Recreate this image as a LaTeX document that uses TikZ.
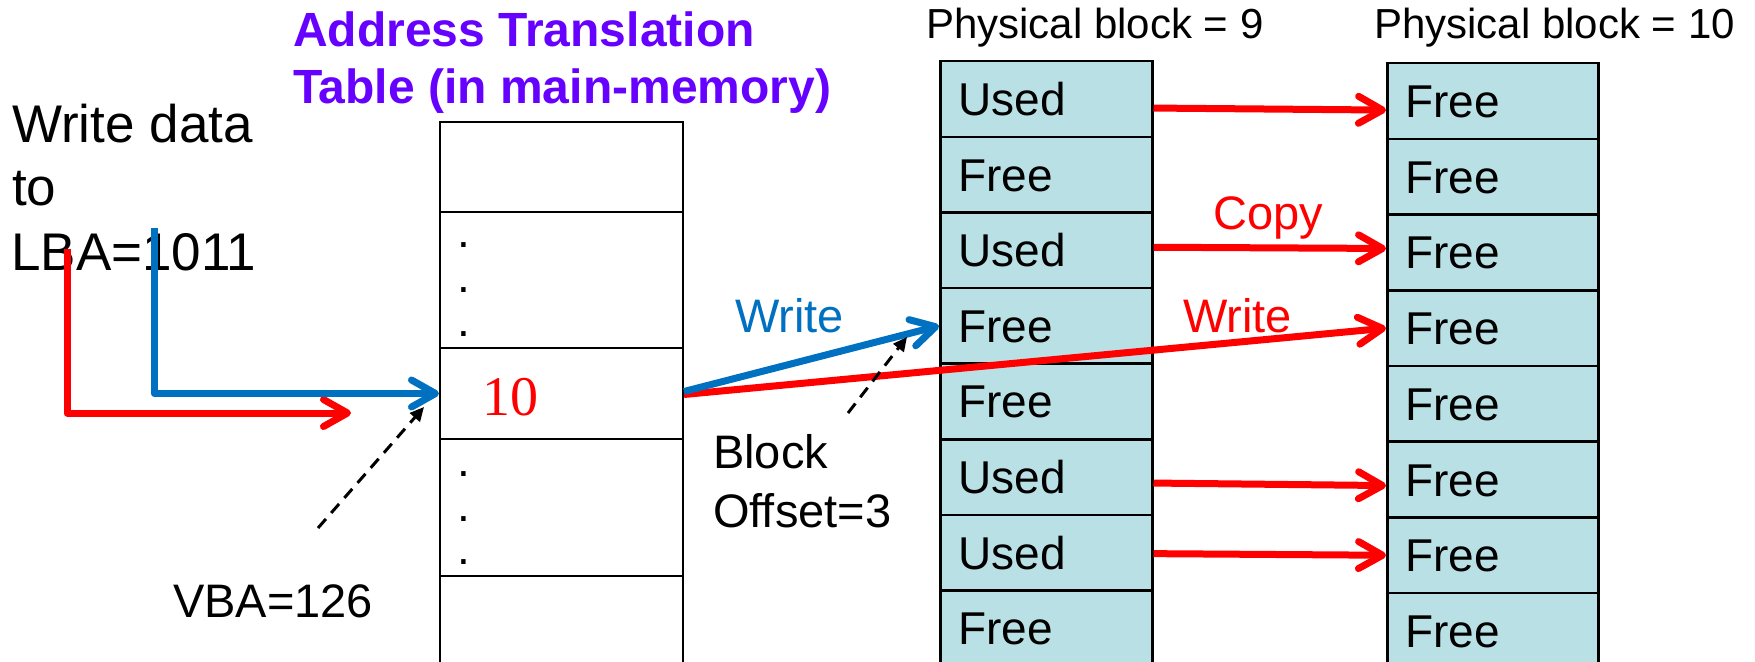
\documentclass[tikz,border=0pt]{standalone}
\usepackage{fontspec}
\setmainfont{Liberation Sans}
\newfontfamily\serifnum{Liberation Serif}
\usetikzlibrary{arrows.meta}
\definecolor{cellfill}{RGB}{185,224,228}
\definecolor{ablue}{RGB}{0,112,192}
\definecolor{ared}{RGB}{255,0,0}
\definecolor{titlepurple}{RGB}{102,0,255}
\begin{document}
\begin{tikzpicture}[x=1pt,y=-1pt,
  tcell/.style={draw, line width=2pt, minimum width=243pt, inner sep=0pt, anchor=north west},
  bcell/.style={draw, line width=2.5pt, fill=cellfill, minimum height=75.6pt,
    inner xsep=18pt, inner ysep=0pt, align=left, text height=33pt, text depth=0pt,
    anchor=north west, font=\fontsize{46}{50}\selectfont},
  lbl/.style={inner sep=0pt, anchor=base west, font=\fontsize{47}{56}\selectfont},
  ttl/.style={inner sep=0pt, anchor=base west, text=titlepurple, font=\fontsize{48}{56}\selectfont\bfseries},
  big/.style={inner sep=0pt, anchor=base west, font=\fontsize{53}{64}\selectfont},
  hdr/.style={inner sep=0pt, anchor=base west, font=\fontsize{42}{50}\selectfont},
  dotlbl/.style={inner sep=0pt, anchor=base, font=\fontsize{46}{50}\selectfont},
  fat/.style={line width=7pt, line join=round, -{Straight Barb[length=24pt,width=27pt,round]}},
  ptr/.style={line width=3pt, dash pattern=on 12pt off 8pt, -{Triangle[length=14pt,width=13pt]}}
]
\useasboundingbox (0,0) rectangle (1755,661);
\clip (0,0) rectangle (1755,661);

% title
\node[ttl] (title1) at (293,47) {Address Translation};
\node[ttl] (title2) at (293,103) {Table (in main-memory)};

% write data text
\node[big] (w1) at (12,142) {Write data};
\node[big] (w2) at (12,205) {to};
\node[big] (w3) at (11,270) {LBA=1011};

% translation table
\node[tcell, minimum height=90pt]  (t1) at (439,121) {};
\node[tcell, minimum height=136pt] (t2) at (439,211) {};
\node[tcell, minimum height=91pt]  (t3) at (439,347) {};
\node[tcell, minimum height=137pt] (t4) at (439,438) {};
\node[tcell, minimum height=140pt] (t5) at (439,575) {};
\node[dotlbl] (d1) at (464,247) {.};
\node[dotlbl] (d2) at (464,292) {.};
\node[dotlbl] (d3) at (464,336) {.};
\node[dotlbl] (d4) at (464,476) {.};
\node[dotlbl] (d5) at (464,521) {.};
\node[dotlbl] (d6) at (464,564) {.};
\node[inner sep=0pt, anchor=base, text=ared, font=\fontsize{56}{60}\serifnum] (ten) at (510,415) {10};

% physical blocks
\node[hdr] (p9) at (926,38) {Physical block = 9};
\node[hdr] (p10) at (1374,38) {Physical block = 10};
\foreach \t [count=\i] in {Used,Free,Used,Free,Free,Used,Used,Free}
  \node[bcell, minimum width=212pt, text width=176pt] (b\i) at (939,{60+(\i-1)*75.6}) {\t};
\foreach \t [count=\i] in {Free,Free,Free,Free,Free,Free,Free,Free}
  \node[bcell, minimum width=211pt, text width=175pt] (c\i) at (1386,{62+(\i-1)*75.7}) {\t};

% labels
\node[lbl, text=ared] (copy) at (1213,229) {Copy};
\node[lbl, text=ablue] (wblue) at (735,332) {Write};
\node[lbl, text=ared] (wred) at (1183,332) {Write};
\node[lbl] (blk1) at (713,468) {Block};
\node[lbl] (blk2) at (713,527) {Offset=3};
\node[lbl] (vba) at (173,617) {VBA=126};

% copy arrows
\draw[fat, ared] ([yshift=-9pt]b1.east) -- ([yshift=-9pt]c1.west);
\draw[fat, ared] ([yshift=3pt]b3.east) -- ([yshift=4pt]c3.west);
\draw[fat, ared] ([yshift=-6pt]b6.east) -- ([yshift=-6pt]c6.west);
\draw[fat, ared] ([yshift=-1pt]b7.east) -- ([yshift=0pt]c7.west);

% left connectors
\coordinate (redstart) at (67,249);
\coordinate (redend) at (351,413);
\coordinate (bluestart) at (154,228);
\draw[fat, ared] (redstart) |- (redend);
\draw[fat, ablue] (bluestart) |- (t3.west);

% write arrows
\draw[fat, ared] ([yshift=-1pt]t3.east) -- (c4.west);
\draw[fat, ablue] ([yshift=2pt]t3.east) -- (b4.west);

% dashed pointers
\coordinate (vbatail) at (318,528);
\coordinate (vbatip) at (424,407);
\coordinate (offtail) at (848,413);
\coordinate (offtip) at (907,337);
\draw[ptr] (vbatail) -- (vbatip);
\draw[ptr] (offtail) -- (offtip);
\end{tikzpicture}
\end{document}
